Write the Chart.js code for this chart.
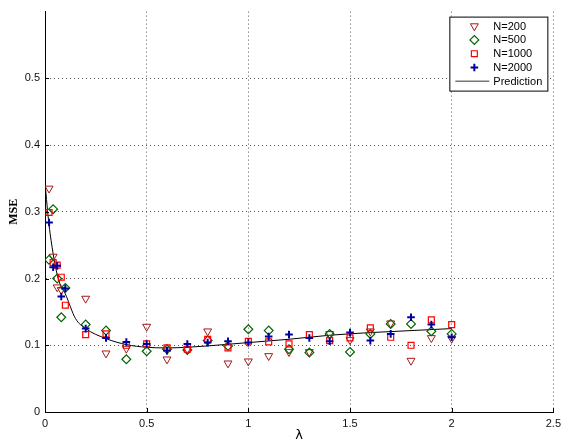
<!DOCTYPE html>
<html><head><meta charset="utf-8">
<script src="https://cdn.jsdelivr.net/npm/chart.js@4.4.0/dist/chart.umd.min.js"></script>
<style>html,body{margin:0;padding:0;background:#fff}#wrap{width:566px;height:441px}</style>
</head><body><div id="wrap"><canvas id="c" width="566" height="441"></canvas></div>
<script>
// ---- data ----
const lambda = [0.02,0.04,0.06,0.08,0.1,0.2,0.3,0.4,0.5,0.6,0.7,0.8,0.9,1.0,1.1,1.2,1.3,1.4,1.5,1.6,1.7,1.8,1.9,2.0];
const mseN200  = [0.335,0.233,0.187,0.183,null,0.170,0.088,0.095,0.128,0.079,0.094,0.121,0.073,0.076,0.084,0.090,0.090,0.117,0.108,0.121,0.133,0.077,0.111,0.110];
const mseN500  = [0.228,0.304,0.200,0.142,0.186,0.131,0.122,0.079,0.091,0.094,0.093,0.107,0.099,0.124,0.122,0.094,0.089,0.117,0.090,0.117,0.132,0.132,0.121,0.117];
const mseN1000 = [0.299,0.224,0.220,0.202,0.160,0.116,0.117,0.100,0.102,0.096,0.094,0.109,0.096,0.106,0.105,0.102,0.116,0.107,0.111,0.126,0.112,0.100,0.138,0.131];
const mseN2000 = [0.284,0.217,0.219,0.173,0.185,0.125,0.111,0.105,0.102,0.092,0.102,0.104,0.106,0.104,0.113,0.116,0.111,0.106,0.119,0.107,0.117,0.142,0.131,0.112];
const predLambda = [0,0.01,0.02,0.03,0.05,0.07,0.1,0.15,0.2,0.3,0.4,0.5,0.6,0.7,0.8,1.0,1.2,1.4,1.6,1.8,2.0];
const predMSE    = [0.345,0.31,0.28,0.257,0.22,0.195,0.177,0.14,0.125,0.11,0.101,0.097,0.096,0.097,0.099,0.104,0.109,0.115,0.119,0.122,0.125];
const xTicks = [0,0.5,1,1.5,2,2.5];
const yTicks = [0,0.1,0.2,0.3,0.4,0.5];
const seriesLabels = ['N=200','N=500','N=1000','N=2000','Prediction'];

const pts = (xs, ys) => xs.map((x,i)=>({x, y: ys[i]})).filter(p=>p.y!==null);

const datasets = [
  {label:seriesLabels[0], data:pts(lambda,mseN200), pointStyle:'triangle', rotation:180, radius:4.6,
   borderColor:'#a81818', backgroundColor:'rgba(0,0,0,0)', borderWidth:1, order:4},
  {label:seriesLabels[1], data:pts(lambda,mseN500), pointStyle:'rectRot', radius:4.4,
   borderColor:'#006400', backgroundColor:'rgba(0,0,0,0)', borderWidth:1.2, order:3},
  {label:seriesLabels[2], data:pts(lambda,mseN1000), pointStyle:'rect', radius:4.2,
   borderColor:'#ff0000', backgroundColor:'rgba(0,0,0,0)', borderWidth:1.2, order:2},
  {label:seriesLabels[3], data:pts(lambda,mseN2000), pointStyle:'cross', radius:3.8,
   borderColor:'#0000a0', backgroundColor:'#0000a0', borderWidth:2, order:1},
  {label:seriesLabels[4], type:'line', data:pts(predLambda,predMSE), showLine:true, pointRadius:0,
   borderColor:'#000', borderWidth:1, cubicInterpolationMode:'monotone', fill:false, order:5}
];

const legendStyles = [
  {pointStyle:'triangle', rotation:180, radius:4.6, color:'#a81818', bw:1},
  {pointStyle:'rectRot', rotation:0, radius:4.4, color:'#006400', bw:1.2},
  {pointStyle:'rect', rotation:0, radius:4.2, color:'#ff0000', bw:1.2},
  {pointStyle:'cross', rotation:0, radius:3.8, color:'#0000a0', bw:2},
  {line:true, color:'#777'}
];

const boxLegend = {
  id:'boxLegend',
  afterDraw(chart){
    const ctx = chart.ctx, ca = chart.chartArea;
    const w = 98, h = 74;
    const x0 = ca.right - 104, y0 = ca.top + 5;
    ctx.save();
    ctx.fillStyle = '#fff';
    ctx.fillRect(x0, y0, w, h);
    ctx.strokeStyle = '#000'; ctx.lineWidth = 1;
    ctx.strokeRect(x0+0.5, y0+0.5, w, h);
    ctx.font = '11px "Liberation Sans", Arial, sans-serif';
    ctx.textBaseline = 'middle';
    seriesLabels.forEach((lab,i)=>{
      const cy = y0 + 9.5 + i*13.8;
      const st = legendStyles[i];
      if (st.line){
        ctx.strokeStyle = st.color; ctx.lineWidth = 1.5;
        ctx.beginPath(); ctx.moveTo(x0+6, cy); ctx.lineTo(x0+40, cy); ctx.stroke();
      } else {
        ctx.strokeStyle = st.color; ctx.fillStyle = 'rgba(0,0,0,0)'; ctx.lineWidth = st.bw;
        Chart.helpers.drawPoint(ctx, {pointStyle:st.pointStyle, radius:st.radius, rotation:st.rotation, borderWidth:st.bw}, x0+25, cy);
      }
      ctx.fillStyle = '#000';
      ctx.fillText(lab, x0+44, cy+0.5);
    });
    ctx.restore();
  }
};

const inTicks = {
  id:'inTicks',
  afterDraw(chart){
    const ctx = chart.ctx, ca = chart.chartArea, xs = chart.scales.x, ys = chart.scales.y;
    ctx.save(); ctx.strokeStyle = '#000'; ctx.lineWidth = 1;
    ctx.beginPath();
    xTicks.forEach(v=>{ const px = Math.round(xs.getPixelForValue(v))+0.5; ctx.moveTo(px, ca.bottom); ctx.lineTo(px, ca.bottom-4); });
    yTicks.forEach(v=>{ const py = Math.round(ys.getPixelForValue(v))+0.5; ctx.moveTo(ca.left, py); ctx.lineTo(ca.left+4, py); });
    ctx.stroke(); ctx.restore();
  }
};

const tickFont = {family:'"Liberation Sans", Arial, sans-serif', size:11};

new Chart(document.getElementById('c'), {
  type:'scatter',
  data:{datasets},
  options:{
    responsive:false, animation:false, devicePixelRatio:1,
    layout:{padding:{top:10, right:10, left:0, bottom:0}},
    plugins:{legend:{display:false}, tooltip:{enabled:false}},
    elements:{point:{hoverRadius:4}},
    scales:{
      x:{type:'linear', min:0, max:2.5,
         afterFit(s){ s.height = 29; },
         afterBuildTicks(s){ s.ticks = xTicks.map(v=>({value:v})); },
         ticks:{font:tickFont, color:'#111', padding:5, maxRotation:0, callback:v=>String(v)},
         grid:{drawTicks:false, color:c=> (c.tick && c.tick.value===0) ? 'rgba(0,0,0,0)' : '#555', lineWidth:1},
         border:{display:true, color:'#000', width:1, dash:[1,3]},
         title:{display:true, text:'λ', font:{family:'"DejaVu Sans", sans-serif', size:13, lineHeight:0.8}, color:'#000', padding:{top:0,bottom:0}}
      },
      y:{type:'linear', min:0, max:0.6,
         afterFit(s){ s.width = 45; },
         afterBuildTicks(s){ s.ticks = yTicks.concat([0.6]).map(v=>({value:v})); },
         ticks:{font:tickFont, color:'#111', padding:5, callback:v=> v>0.55 ? '' : (v===0 ? '0' : v.toFixed(1))},
         grid:{drawTicks:false, color:c=> (c.tick && (c.tick.value===0 || c.tick.value>0.55)) ? 'rgba(0,0,0,0)' : '#555', lineWidth:1},
         border:{display:true, color:'#000', width:1, dash:[1,3]},
         title:{display:true, text:'MSE', font:{family:'"Liberation Serif", "Times New Roman", serif', size:12, weight:'bold', lineHeight:1.2}, color:'#000', padding:{top:7,bottom:0}}
      }
    }
  },
  plugins:[boxLegend, inTicks]
});
</script></body></html>
